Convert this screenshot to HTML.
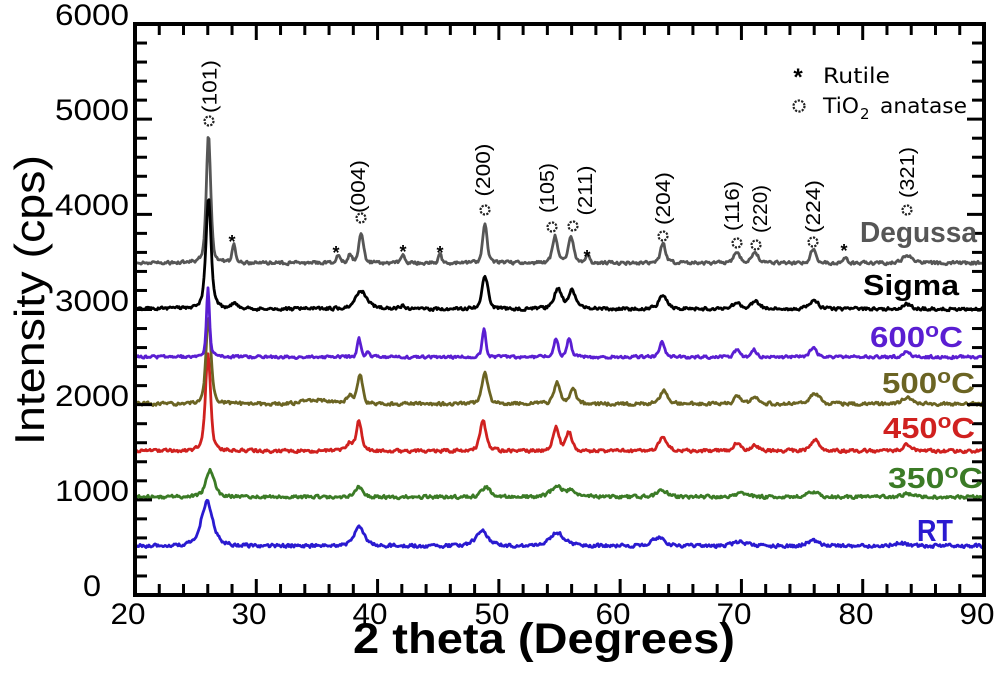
<!DOCTYPE html>
<html>
<head>
<meta charset="utf-8">
<style>
html,body{margin:0;padding:0;background:#fff;}
svg{display:block;}
text{font-family:"Liberation Sans",Arial,sans-serif;}
</style>
</head>
<body>
<svg id="chart" width="1000" height="686" viewBox="0 0 1000 686" xmlns="http://www.w3.org/2000/svg">
<rect x="0" y="0" width="1000" height="686" fill="#fff"/>

<!-- curves -->
<g fill="none" stroke-width="2.8" stroke-linejoin="round" stroke-linecap="round">
  <path id="cDeg" stroke="#565656"/>
  <path id="cSig" stroke="#000"/>
  <path id="cRT" stroke="#2a1ad0"/>
  <path id="c350" stroke="#3b7b26"/>
  <path id="c450" stroke="#d0211f"/>
  <path id="c500" stroke="#6b6423"/>
  <path id="c600" stroke="#5a1ed2"/>
</g>

<!-- axes frame and ticks -->
<g id="ticks" stroke="#000" stroke-width="3"></g>
<rect x="135" y="24" width="849" height="571" fill="none" stroke="#000" stroke-width="4"/>

<!-- tick labels -->
<g font-size="30" fill="#000" text-anchor="middle">
  <text x="92" y="596" textLength="18" lengthAdjust="spacingAndGlyphs">0</text>
  <text x="92" y="501" textLength="74" lengthAdjust="spacingAndGlyphs">1000</text>
  <text x="92" y="406" textLength="74" lengthAdjust="spacingAndGlyphs">2000</text>
  <text x="92" y="311" textLength="74" lengthAdjust="spacingAndGlyphs">3000</text>
  <text x="92" y="215" textLength="74" lengthAdjust="spacingAndGlyphs">4000</text>
  <text x="92" y="120" textLength="74" lengthAdjust="spacingAndGlyphs">5000</text>
  <text x="92" y="25" textLength="74" lengthAdjust="spacingAndGlyphs">6000</text>

  <text x="128" y="624" textLength="35" lengthAdjust="spacingAndGlyphs">20</text>
  <text x="249" y="624" textLength="35" lengthAdjust="spacingAndGlyphs">30</text>
  <text x="370" y="624" textLength="35" lengthAdjust="spacingAndGlyphs">40</text>
  <text x="492" y="624" textLength="35" lengthAdjust="spacingAndGlyphs">50</text>
  <text x="613" y="624" textLength="35" lengthAdjust="spacingAndGlyphs">60</text>
  <text x="734" y="624" textLength="35" lengthAdjust="spacingAndGlyphs">70</text>
  <text x="856" y="624" textLength="35" lengthAdjust="spacingAndGlyphs">80</text>
  <text x="977" y="624" textLength="35" lengthAdjust="spacingAndGlyphs">90</text>
</g>

<!-- axis titles -->
<text x="353" y="653" font-size="43" font-weight="bold" textLength="382" lengthAdjust="spacingAndGlyphs">2 theta (Degrees)</text>
<text transform="translate(44,300) rotate(-90)" text-anchor="middle" font-size="42" textLength="290" lengthAdjust="spacingAndGlyphs">Intensity (cps)</text>

<!-- peak labels -->
<g font-size="20" fill="#000" text-anchor="middle">
  <text transform="translate(216.5,86.5) rotate(-90)" textLength="53" lengthAdjust="spacingAndGlyphs">(101)</text>
  <text transform="translate(365,186.5) rotate(-90)" textLength="53" lengthAdjust="spacingAndGlyphs">(004)</text>
  <text transform="translate(490,170) rotate(-90)" textLength="53" lengthAdjust="spacingAndGlyphs">(200)</text>
  <text transform="translate(554,188) rotate(-90)" textLength="50" lengthAdjust="spacingAndGlyphs">(105)</text>
  <text transform="translate(592,190.5) rotate(-90)" textLength="50" lengthAdjust="spacingAndGlyphs">(211)</text>
  <text transform="translate(670,198.5) rotate(-90)" textLength="53" lengthAdjust="spacingAndGlyphs">(204)</text>
  <text transform="translate(739,206) rotate(-90)" textLength="50" lengthAdjust="spacingAndGlyphs">(116)</text>
  <text transform="translate(767,209) rotate(-90)" textLength="48" lengthAdjust="spacingAndGlyphs">(220)</text>
  <text transform="translate(820,206.5) rotate(-90)" textLength="53" lengthAdjust="spacingAndGlyphs">(224)</text>
  <text transform="translate(914,172.5) rotate(-90)" textLength="51" lengthAdjust="spacingAndGlyphs">(321)</text>
</g>

<!-- anatase markers -->
<g fill="#fff" stroke="#222" stroke-width="2.2" stroke-dasharray="2.2 1.3">
  <circle cx="209" cy="121" r="4.5"/>
  <circle cx="361" cy="218" r="4.5"/>
  <circle cx="485" cy="210" r="4.5"/>
  <circle cx="552" cy="227" r="4.5"/>
  <circle cx="573" cy="226" r="4.5"/>
  <circle cx="663" cy="236" r="4.5"/>
  <circle cx="737" cy="243" r="4.5"/>
  <circle cx="756" cy="245" r="4.5"/>
  <circle cx="813" cy="242" r="4.5"/>
  <circle cx="907" cy="210" r="4.5"/>
  <circle cx="799" cy="106" r="5.5"/>
</g>

<!-- rutile stars -->
<g font-size="18" font-weight="bold" fill="#000" text-anchor="middle">
  <text x="232" y="248">*</text>
  <text x="336" y="259">*</text>
  <text x="403" y="258">*</text>
  <text x="440" y="259">*</text>
  <text x="587" y="263">*</text>
  <text x="844" y="257">*</text>
</g>

<!-- legend -->
<text x="798" y="85" font-size="24" font-weight="bold" text-anchor="middle">*</text>
<g font-family="'DejaVu Sans','Liberation Sans',sans-serif" font-size="21" fill="#000">
  <text x="823" y="83" textLength="67" lengthAdjust="spacingAndGlyphs" style="font-family:'DejaVu Sans','Liberation Sans',sans-serif">Rutile</text>
  <text x="823" y="113" textLength="36" lengthAdjust="spacingAndGlyphs" style="font-family:'DejaVu Sans','Liberation Sans',sans-serif">TiO</text>
  <text x="860" y="119" font-size="15" style="font-family:'DejaVu Sans','Liberation Sans',sans-serif">2</text>
  <text x="880" y="113" textLength="87" lengthAdjust="spacingAndGlyphs" style="font-family:'DejaVu Sans','Liberation Sans',sans-serif">anatase</text>
</g>

<!-- sample labels -->
<g font-size="29" font-weight="bold">
  <text x="860" y="242" fill="#565656" textLength="117" lengthAdjust="spacingAndGlyphs">Degussa</text>
  <text x="863" y="295" fill="#000" textLength="96" lengthAdjust="spacingAndGlyphs">Sigma</text>
  <text x="870" y="347" fill="#5a1ed2" textLength="93" lengthAdjust="spacingAndGlyphs">600<tspan font-size="20" dy="-10">o</tspan><tspan dy="10">C</tspan></text>
  <text x="882" y="393" fill="#6b6423" textLength="93" lengthAdjust="spacingAndGlyphs">500<tspan font-size="20" dy="-10">o</tspan><tspan dy="10">C</tspan></text>
  <text x="883" y="438" fill="#d0211f" textLength="92" lengthAdjust="spacingAndGlyphs">450<tspan font-size="20" dy="-10">o</tspan><tspan dy="10">C</tspan></text>
  <text x="888" y="488" fill="#3b7b26" textLength="95" lengthAdjust="spacingAndGlyphs">350<tspan font-size="20" dy="-10">o</tspan><tspan dy="10">C</tspan></text>
  <text x="917" y="541" fill="#2a1ad0" font-size="31" textLength="36" lengthAdjust="spacingAndGlyphs">RT</text>
</g>
</svg>

<script>
(function(){
  var NS="http://www.w3.org/2000/svg";
  var tg=document.getElementById("ticks");
  function ln(x1,y1,x2,y2){var l=document.createElementNS(NS,"line");l.setAttribute("x1",x1);l.setAttribute("y1",y1);l.setAttribute("x2",x2);l.setAttribute("y2",y2);tg.appendChild(l);}
  for(var v=22;v<90;v+=2){
    var X=135+(v-20)*849/70, L=(v%10===0)?16:11;
    ln(X,595,X,595-L); ln(X,24,X,24+L);
  }
  for(var w=200;w<6000;w+=200){
    var Y=595-w*571/6000, L2=(w%1000===0)?17:12;
    ln(135,Y,135+L2,Y); ln(984,Y,984-L2,Y);
  }

  function mulberry32(a){return function(){a|=0;a=a+0x6D2B79F5|0;var t=Math.imul(a^a>>>15,1|a);t=t+Math.imul(t^t>>>7,61|t)^t;return((t^t>>>14)>>>0)/4294967296;};}
  function gen(id,base,peaks,seed,amp){
    var r=mulberry32(seed),d="",n=0;
    for(var x=137;x<=982;x+=1){
      var s=0;
      for(var i=0;i<peaks.length;i++){
        var p=peaks[i],u=(x-p[0])/p[2];
        s+=p[1]*(p[3]/(1+u*u)+(1-p[3])*Math.exp(-0.693*u*u));
      }
      n=0.3*n+(r()-0.5)*amp;
      var y=base-s+n;
      d+=(x===137?"M":"L")+x+" "+y.toFixed(1);
    }
    document.getElementById(id).setAttribute("d",d);
  }
  gen("cDeg",263,[[208.5,128,2.6,0.5],[234,19,2,0.3],[338,8,2,0.3],[350,8,2.5,0.3],[361,29,2.8,0.4],[403,9,2,0.3],[440,8,2,0.3],[485,40,2.6,0.4],[555,27,3,0.4],[571,27,3,0.4],[588,7,2,0.3],[663,19,3,0.4],[737,11,3.5,0.4],[755,11,3.5,0.4],[813,14,3,0.4],[845,6,2,0.3],[907,8,5,0.4]],11,3);
  gen("cSig",309,[[208.5,112,3,0.6],[234,6,3,0.3],[361,18,7,0.5],[403,3,3,0.3],[485,33,3.5,0.5],[558,20,4.5,0.5],[572,19,4,0.5],[663,13,5,0.5],[737,6,5,0.5],[756,7,5,0.5],[814,9,5,0.5],[907,5,5,0.5]],22,3);
  gen("cRT",546,[[207,44,7,0.5],[359,19,6,0.5],[482,15,7,0.5],[557,13,9,0.5],[658,8,8,0.5],[740,4,8,0.5],[813,5,7,0.5],[900,3,8,0.5]],33,3.2);
  gen("c350",497,[[210,27,5,0.5],[359,10,4,0.5],[486,10,5,0.5],[557,10,7,0.5],[572,6,6,0.5],[662,7,6,0.5],[740,3,8,0.5],[813,5,6,0.5],[907,3,6,0.5]],44,3);
  gen("c450",451,[[208,98,3,0.5],[350,8,4,0.4],[359,30,3,0.4],[483,31,3.5,0.5],[556,23,3.5,0.5],[569,18,3.5,0.5],[663,15,4.5,0.5],[737,8,4,0.4],[755,6,4,0.4],[815,11,5,0.5],[907,6,5,0.5]],55,3);
  gen("c500",404,[[208.5,86,3,0.5],[350,8,4,0.4],[360,29,3,0.4],[315,4,15,0],[485,31,3.5,0.5],[557,21,3.5,0.5],[573,17,3.5,0.5],[664,14,4.5,0.5],[738,8,4,0.4],[755,7,4,0.4],[815,11,5,0.5],[907,7,5,0.5]],66,3);
  gen("c600",357,[[208,69,1.8,0.5],[359,20,2,0.4],[368,6,2,0.3],[484,29,2.2,0.4],[556,19,2.5,0.4],[569,19,2.5,0.4],[662,14,3,0.4],[737,8,3,0.4],[754,7,3,0.4],[813,10,3.5,0.4],[907,6,4,0.4]],77,2.6);
})();
</script>
</body>
</html>
